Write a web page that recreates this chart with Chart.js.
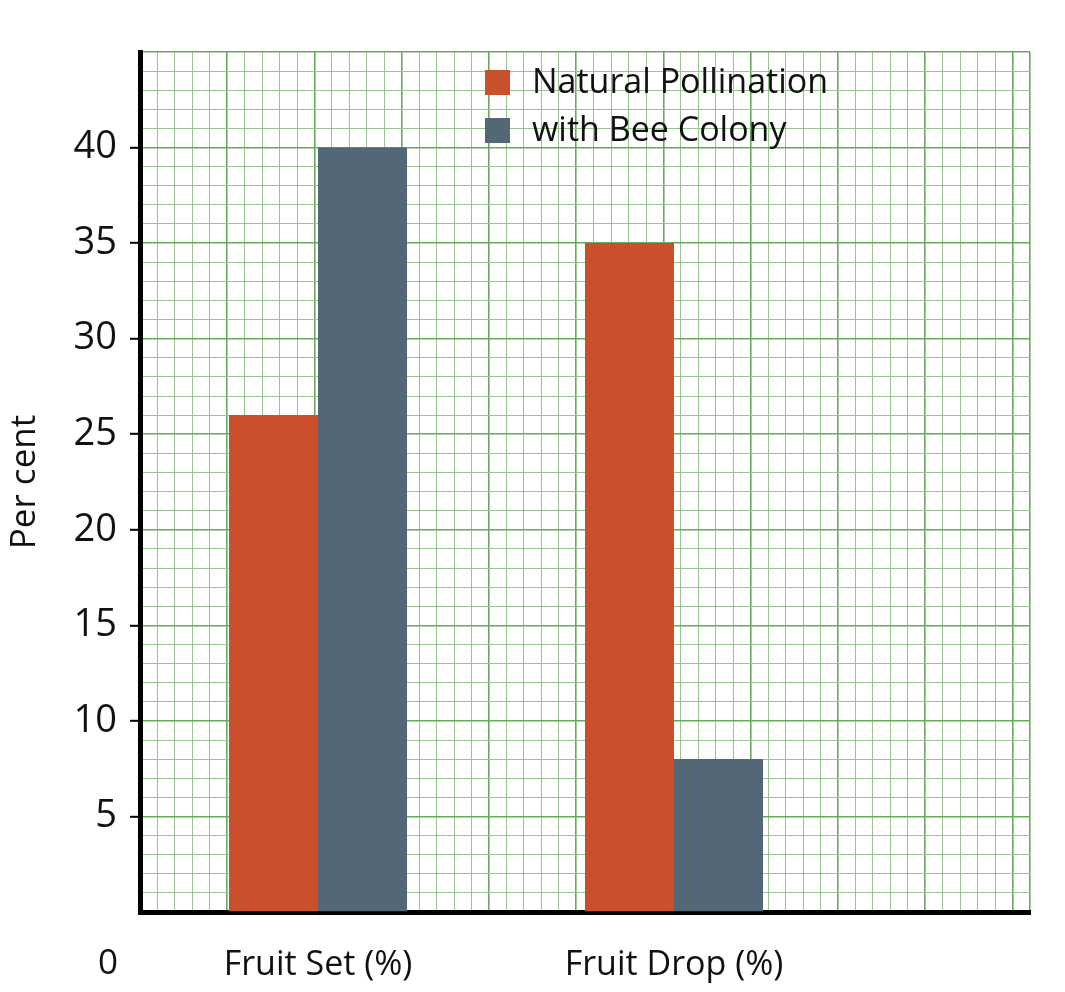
<!DOCTYPE html>
<html>
<head>
<meta charset="utf-8">
<script src="https://cdn.jsdelivr.net/npm/chart.js@4.4.1/dist/chart.umd.min.js"></script>
<style>
  html, body { margin: 0; padding: 0; background: #fff; }
  #wrap { width: 1065px; height: 992px; position: relative; }
</style>
</head>
<body>
<div id="wrap"><canvas id="chart"></canvas></div>
<script>
const categories = ['Fruit Set (%)', 'Fruit Drop (%)']
const seriesNames = ['Natural Pollination', 'with Bee Colony']
const naturalPollination = [26, 35]
const beeColony = [40, 8]
const yTickLabels = [5, 10, 15, 20, 25, 30, 35, 40]
const yMax = 45

const orange = '#c9502a'
const slate = '#536776'
const gridMinor = '#98c58f'
const gridMajor = '#68a85f'
const font = 'Open Sans'

// x runs over 10 "big squares" of the graph paper, each group sits 4 squares apart
const groupX = (i) => 2 + 4 * i
const toPoints = (arr) => arr.map((v, i) => ({ x: groupX(i), y: v }))

// one tick per small square
const everyUnit = (n) => Array.from({ length: n + 1 }, (_, v) => ({ value: v }))

// every 5th paper line is a bit stronger
const isMajor = (c) => !c.tick || c.tick.value % 5 === 0
const paperColor = (c) => (isMajor(c) ? gridMajor : gridMinor)
const paperWidth = (c) => (isMajor(c) ? 1.6 : 1)

// legend drawn inside the plot, plus the lone "0" under the axis
const paperExtras = {
  id: 'paperExtras',
  afterDraw(chart) {
    const ctx = chart.ctx
    const area = chart.chartArea
    ctx.save()
    ctx.font = '34px "' + font + '"'
    ctx.textBaseline = 'middle'
    ctx.textAlign = 'left'
    chart.data.datasets.forEach((ds, i) => {
      const top = 70 + i * 48
      ctx.fillStyle = ds.backgroundColor
      ctx.fillRect(area.left + 345, top, 25, 25)
      ctx.fillStyle = '#111'
      ctx.fillText(ds.label, area.left + 392, top + 13)
    })
    ctx.textAlign = 'center'
    ctx.font = '35px "' + font + '"'
    ctx.fillText('0', area.left - 32, 964)
    ctx.restore()
  }
}

new Chart(document.getElementById('chart'), {
  type: 'bar',
  data: {
    datasets: [
      { label: seriesNames[0], data: toPoints(naturalPollination), backgroundColor: orange },
      { label: seriesNames[1], data: toPoints(beeColony), backgroundColor: slate }
    ]
  },
  options: {
    responsive: true,
    maintainAspectRatio: false,
    animation: false,
    layout: { padding: { top: 52, right: 35, left: 0, bottom: 0 } },
    datasets: { bar: { categoryPercentage: 0.5, barPercentage: 1, borderWidth: 0 } },
    plugins: { legend: { display: false }, tooltip: { enabled: false } },
    scales: {
      x: {
        type: 'linear',
        min: 0,
        max: 10,
        offset: false,
        z: 1,
        afterBuildTicks: (scale) => { scale.ticks = categories.map((c, i) => ({ value: groupX(i) })) },
        afterFit: (scale) => { scale.height = 80 },
        ticks: {
          autoSkip: false,
          maxRotation: 0,
          padding: 33,
          color: '#111',
          font: { family: font, size: 34 },
          callback: (v, i) => categories[i]
        },
        grid: { drawOnChartArea: false, drawTicks: false, offset: false },
        border: { color: '#000', width: 5 }
      },
      xPaper: {
        type: 'linear',
        position: 'bottom',
        min: 0,
        max: 50,
        afterBuildTicks: (scale) => { scale.ticks = everyUnit(50) },
        afterFit: (scale) => { scale.height = 0 },
        ticks: { display: false, autoSkip: false },
        grid: { drawTicks: false, color: paperColor, lineWidth: paperWidth },
        border: { display: false }
      },
      y: {
        min: 0,
        max: yMax,
        afterBuildTicks: (scale) => { scale.ticks = everyUnit(yMax) },
        afterFit: (scale) => { scale.width = 140 },
        ticks: {
          autoSkip: false,
          padding: 13,
          color: '#111',
          font: { family: font, size: 38 },
          callback: (v) => (yTickLabels.includes(v) ? String(v) : '')
        },
        grid: {
          tickLength: 10,
          tickWidth: 2,
          tickColor: (c) => (c.tick && yTickLabels.includes(c.tick.value) ? '#000' : 'rgba(0,0,0,0)'),
          color: paperColor,
          lineWidth: paperWidth
        },
        border: { color: '#000', width: 5 },
        title: {
          display: true,
          text: 'Per cent',
          color: '#111',
          font: { family: font, size: 35 },
          padding: { top: 4, bottom: 0 }
        }
      }
    }
  },
  plugins: [paperExtras]
})
</script>
</body>
</html>
